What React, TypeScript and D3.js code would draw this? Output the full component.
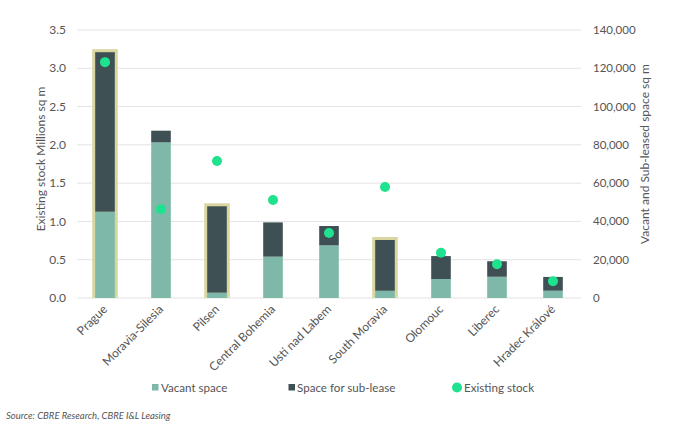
import React from 'react';
import * as d3 from 'd3';

// regions and values
const categories = ['Prague', 'Moravia-Silesia', 'Pilsen', 'Central Bohemia', 'Usti nad Labem', 'South Moravia', 'Olomouc', 'Liberec', 'Hradec Králové'];
const vacantSpace = [45100, 81300, 2800, 21600, 27500, 3800, 9900, 11100, 3800];
const subleaseSpace = [83300, 6100, 45100, 17900, 10100, 26500, 12000, 8100, 7200];
const existingStock = [3.08, 1.16, 1.79, 1.28, 0.85, 1.45, 0.59, 0.44, 0.22];
const highlighted = ['Prague', 'Pilsen', 'South Moravia'];
const leftTicks = [0, 0.5, 1, 1.5, 2, 2.5, 3, 3.5];
const rightTicks = [0, 20000, 40000, 60000, 80000, 100000, 120000, 140000];

const W = 676;
const H = 427;
const margin = { top: 30, right: 95, bottom: 129, left: 77 };
const FONT = 'Lato, "Open Sans", sans-serif';

const colors = {
  vacant: '#7db8a9',
  sublease: '#3e5053',
  stock: '#1fe28e',
  highlight: '#d9d6a2',
  grid: '#e3e3e3',
  text: '#555555',
};

const App: React.FC = () => {
  const plotBottom = H - margin.bottom;
  const plotRight = W - margin.right;

  const x = d3.scaleBand<string>()
    .domain(categories)
    .range([margin.left, plotRight])
    .paddingInner(0.65)
    .paddingOuter(0.325);

  const yLeft = d3.scaleLinear().domain([0, 3.5]).range([plotBottom, margin.top]);
  const yRight = d3.scaleLinear().domain([0, 140000]).range([plotBottom, margin.top]);

  const fmtLeft = d3.format('.1f');
  const fmtRight = d3.format(',');

  return (
    <svg width={W} height={H} style={{ position: 'absolute', left: 0, top: 0, background: '#fff' }} fontFamily={FONT}>
      {/* gridlines */}
      {leftTicks.map(t => (
        <line key={t} x1={margin.left} x2={plotRight} y1={yLeft(t)} y2={yLeft(t)} stroke={colors.grid} strokeWidth={1} />
      ))}

      {/* left axis labels */}
      {leftTicks.map(t => (
        <text key={t} x={66} y={yLeft(t)} dy="0.35em" textAnchor="end" fontSize={12} fill={colors.text}>{fmtLeft(t)}</text>
      ))}
      <text transform={`translate(45,${(margin.top + plotBottom) / 2 - 5}) rotate(-90)`} textAnchor="middle" fontSize={12} fill={colors.text}>
        Existing stock Millions sq m
      </text>

      {/* right axis labels */}
      {rightTicks.map(t => (
        <text key={t} x={593} y={yRight(t)} dy="0.35em" textAnchor="start" fontSize={11.5} fill={colors.text}>{fmtRight(t)}</text>
      ))}
      <text transform={`translate(649,${(margin.top + plotBottom) / 2 - 10}) rotate(-90)`} textAnchor="middle" fontSize={12} fill={colors.text}>
        Vacant and Sub-leased space sq m
      </text>

      {/* bars */}
      {categories.map((c, i) => {
        const bx = x(c) ?? 0;
        const bw = x.bandwidth();
        const vTop = yRight(vacantSpace[i]);
        const sTop = yRight(vacantSpace[i] + subleaseSpace[i]);
        return (
          <g key={c}>
            {highlighted.includes(c) && (
              <rect x={bx - 3} y={sTop - 3} width={bw + 6} height={plotBottom - sTop + 3} fill={colors.highlight} />
            )}
            <rect x={bx} y={vTop} width={bw} height={plotBottom - vTop} fill={colors.vacant} />
            <rect x={bx} y={sTop} width={bw} height={vTop - sTop} fill={colors.sublease} />
          </g>
        );
      })}

      {/* existing stock dots */}
      {categories.map((c, i) => (
        <circle key={c} cx={(x(c) ?? 0) + x.bandwidth() / 2} cy={yLeft(existingStock[i])} r={5} fill={colors.stock} />
      ))}

      {/* category labels */}
      {categories.map(c => {
        const cx = (x(c) ?? 0) + x.bandwidth() / 2;
        return (
          <text key={c} transform={`translate(${cx + 3},${plotBottom + 12}) rotate(-45)`} textAnchor="end" fontSize={12} fill={colors.text}>
            {c}
          </text>
        );
      })}

      {/* legend */}
      <g fontSize={11.6} fill={colors.text}>
        <rect x={152} y={384} width={6.5} height={6.5} fill={colors.vacant} />
        <text x={161} y={387.5} dy="0.35em">Vacant space</text>
        <rect x={288.5} y={384} width={6.5} height={6.5} fill={colors.sublease} />
        <text x={297} y={387.5} dy="0.35em">Space for sub-lease</text>
        <circle cx={457} cy={387.5} r={5} fill={colors.stock} />
        <text x={464} y={387.5} dy="0.35em">Existing stock</text>
      </g>

      {/* source */}
      <text x={6} y={416} dy="0.35em" fontSize={9.5} fontStyle="italic" fill={colors.text}>
        Source: CBRE Research, CBRE I&amp;L Leasing
      </text>
    </svg>
  );
};

export default App;
